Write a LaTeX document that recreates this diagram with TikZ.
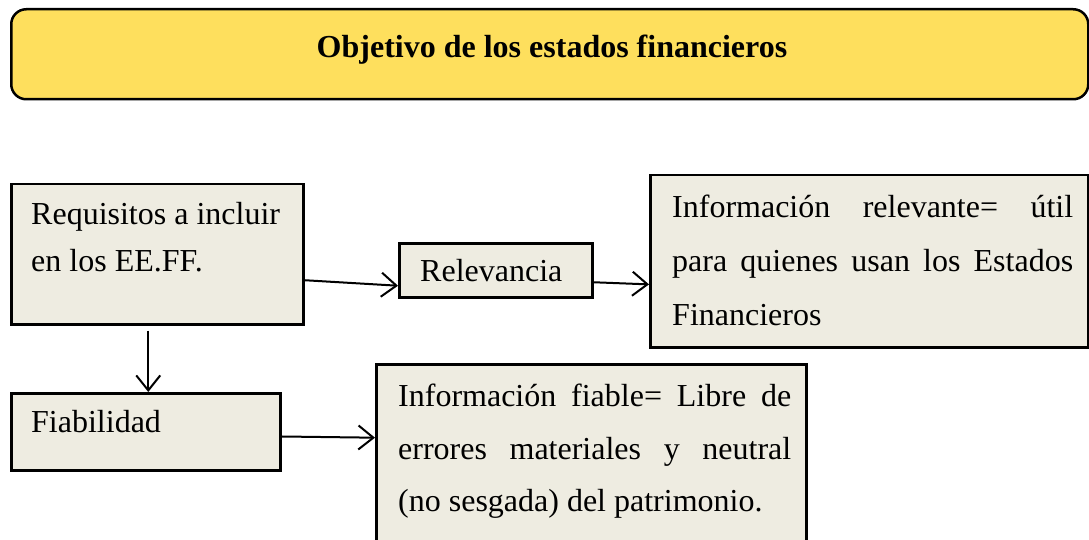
\documentclass[tikz,border=0pt]{standalone}
\usepackage{fontspec}
\setmainfont{Liberation Serif}
\usetikzlibrary{arrows.meta}
\definecolor{titlefill}{HTML}{FEDF5D}
\definecolor{boxfill}{HTML}{EEECE1}
\begin{document}
\begin{tikzpicture}[x=1pt,y=-1pt,
  box/.style={draw=black, line width=2.5pt, fill=boxfill, inner sep=0pt, anchor=north west},
  txt/.style={anchor=base west, inner sep=0pt, font=\fontsize{32}{32}\selectfont},
  arr/.style={line width=2pt, -{Straight Barb[length=15pt,width=24pt,line width=2pt]}}]
\useasboundingbox (0,0) rectangle (1089,540);
% title
\node[draw=black, line width=2.5pt, fill=titlefill, rounded corners=15pt, inner sep=0pt,
      minimum width=1077pt, minimum height=90pt, anchor=north west] (title) at (10,8) {};
\node[txt, anchor=base, font=\bfseries\fontsize{32}{32}\selectfont] (titletext) at (552,58)
  {Objetivo de los estados financieros};
% boxes
\node[box, minimum width=292pt, minimum height=140pt] (req) at (10,183) {};
\node[box, minimum width=193pt, minimum height=54pt] (rel) at (398,242) {};
\node[box, minimum width=438pt, minimum height=172pt] (inforel) at (649,174) {};
\node[box, minimum width=269pt, minimum height=77pt] (fia) at (10,392) {};
\node[box, minimum width=430pt, minimum height=200pt] (infofia) at (375,363) {};
% texts
\node[txt] (reqa) at (31,224) {Requisitos a incluir};
\node[txt] (reqb) at (31,271) {en los EE.FF.};
\node[txt] (relt) at (420,281) {Relevancia};
\node[txt] (ira) at (672,218) {\makebox[401pt][s]{Información relevante= útil}};
\node[txt] (irb) at (672,271) {\makebox[401pt][s]{para quienes usan los Estados}};
\node[txt] (irc) at (672,325) {Financieros};
\node[txt] (fiat) at (31,432) {Fiabilidad};
\node[txt] (ifa) at (398,406) {\makebox[393pt][s]{Información fiable= Libre de}};
\node[txt] (ifb) at (398,459) {\makebox[393pt][s]{errores materiales y neutral}};
\node[txt] (ifc) at (398,511) {(no sesgada) del patrimonio.};
% connectors
\draw[arr] (req.-10.86) -- (rel.189.4);
\draw[arr] (rel.-7.67) -- (inforel.186.0);
\draw[arr] ([xshift=-9pt,yshift=-5pt]req.south) -- ([xshift=-9pt]req.south |- fia.north);
\draw[arr] (fia.-2.77) -- (infofia.173.6);
\end{tikzpicture}
\end{document}
